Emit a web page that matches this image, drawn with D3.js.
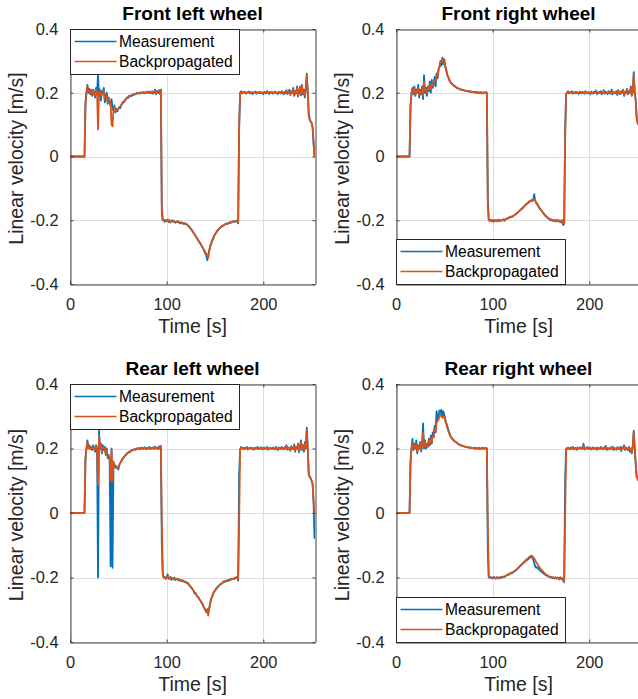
<!DOCTYPE html>
<html><head><meta charset="utf-8">
<script src="https://cdn.jsdelivr.net/npm/d3@7/dist/d3.min.js"></script>
<style>body{margin:0;background:#fff}svg{display:block}</style>
</head><body>
<svg id="c" width="638" height="699"></svg>
<script>
// ---------- data ----------
const time = d3.range(0, 254); // seconds, 1 s sampling
const xDomain = [0, 253.5];
const yDomain = [-0.4, 0.4];
const xTicks = [0, 100, 200];
const xTickLabels = ["0", "100", "200"];
const yTicks = [-0.4, -0.2, 0, 0.2, 0.4];
const yTickLabels = ["-0.4", "-0.2", "0", "0.2", "0.4"];
const titles = ["Front left wheel", "Front right wheel", "Rear left wheel", "Rear right wheel"];
const seriesNames = ["Measurement", "Backpropagated"];
const xLabel = "Time [s]";
const yLabel = "Linear velocity [m/s]";

const flMeas = [
0,0,0,0,0,0,0,0,0,0,
0,0,0,0,0,0,.17,.2,.225,.2,
.212,.195,.208,.19,.21,.2,.185,.215,.2,.258,
.19,.21,.175,.205,.2,.215,.17,.19,.2,.165,
.185,.17,.16,.18,.15,.145,.16,.138,.15,.142,
.148,.155,.152,.162,.165,.172,.17,.178,.18,.185,
.183,.19,.188,.192,.19,.195,.193,.197,.195,.199,
.198,.2,.197,.201,.199,.2,.202,.198,.2,.203,
.199,.201,.204,.198,.2,.205,.197,.202,.21,.195,
.205,.2,.208,.196,.21,-.18,-.2,-.198,-.205,-.2,
-.203,-.198,-.205,-.2,-.207,-.202,-.2,-.205,-.203,-.208,
-.204,-.206,-.203,-.208,-.21,-.206,-.209,-.211,-.208,-.212,
-.21,-.214,-.216,-.22,-.222,-.228,-.23,-.236,-.24,-.245,
-.25,-.255,-.26,-.265,-.27,-.272,-.28,-.285,-.29,-.298,
-.305,-.31,-.325,-.31,-.295,-.285,-.275,-.265,-.26,-.25,
-.245,-.24,-.236,-.232,-.228,-.225,-.222,-.22,-.218,-.216,
-.214,-.213,-.21,-.212,-.208,-.207,-.209,-.205,-.206,-.203,
-.205,-.202,-.204,-.2,-.21,.08,.2,.205,.198,.202,
.2,.203,.197,.201,.2,.204,.198,.2,.202,.196,
.201,.2,.204,.197,.2,.202,.199,.203,.198,.2,
.195,.203,.2,.198,.205,.2,.196,.202,.2,.203,
.197,.2,.204,.199,.201,.196,.203,.2,.198,.205,
.2,.195,.203,.198,.208,.196,.2,.21,.193,.205,
.2,.215,.19,.205,.198,.22,.188,.205,.21,.192,
.225,.195,.21,.185,.215,.26,.205,.13,.115,.11,
.105,.09,.04,0];
const flBack = [
0,0,0,0,0,0,0,0,0,0,
0,0,0,0,0,0,.16,.198,.22,.205,
.205,.2,.21,.195,.205,.198,.19,.21,.205,.085,
.2,.205,.19,.2,.195,.205,.18,.185,.19,.17,
.18,.175,.165,.1,.095,.15,.155,.142,.148,.145,
.15,.153,.158,.16,.167,.17,.173,.176,.182,.183,
.186,.188,.19,.19,.193,.194,.195,.196,.197,.198,
.199,.199,.2,.2,.2,.201,.2,.2,.201,.201,
.2,.202,.2,.201,.2,.203,.2,.201,.206,.198,
.203,.2,.205,.2,.206,-.15,-.198,-.2,-.203,-.2,
-.202,-.2,-.204,-.201,-.205,-.203,-.201,-.204,-.204,-.206,
-.205,-.205,-.204,-.207,-.208,-.207,-.208,-.21,-.21,-.211,
-.212,-.213,-.217,-.219,-.223,-.226,-.231,-.234,-.24,-.244,
-.249,-.254,-.259,-.264,-.268,-.274,-.279,-.284,-.29,-.296,
-.3,-.305,-.31,-.318,-.3,-.28,-.272,-.262,-.257,-.249,
-.244,-.239,-.234,-.23,-.227,-.224,-.221,-.219,-.217,-.215,
-.213,-.212,-.211,-.21,-.209,-.207,-.207,-.206,-.205,-.204,
-.204,-.203,-.202,-.201,-.205,.1,.198,.203,.2,.201,
.201,.202,.199,.2,.201,.202,.2,.2,.201,.199,
.2,.201,.202,.199,.2,.201,.2,.202,.2,.2,
.198,.201,.2,.2,.202,.201,.199,.201,.2,.202,
.199,.2,.202,.2,.2,.198,.202,.2,.2,.203,
.201,.198,.202,.2,.205,.198,.2,.207,.196,.203,
.2,.21,.194,.203,.2,.215,.19,.204,.22,.195,
.22,.198,.205,.19,.212,.255,.2,.14,.118,.11,
.105,.095,.05,0];

const frMeas = [
0,0,0,0,0,0,0,0,0,0,
0,0,0,0,0,.16,.2,.215,.195,.22,
.19,.21,.2,.225,.185,.21,.195,.22,.18,.255,
.2,.215,.19,.22,.205,.235,.2,.24,.215,.23,
.25,.22,.26,.245,.275,.28,.3,.285,.31,.29,
.305,.28,.27,.255,.25,.24,.235,.23,.228,.225,
.222,.22,.218,.215,.214,.213,.212,.21,.21,.209,
.208,.207,.206,.205,.206,.204,.205,.203,.204,.202,
.203,.201,.202,.2,.203,.199,.201,.2,.202,.198,
.2,.201,.199,.202,.2,-.13,-.2,-.202,-.198,-.203,
-.2,-.205,-.199,-.202,-.2,-.204,-.198,-.201,-.203,-.199,
-.2,-.197,-.202,-.198,-.196,-.195,-.192,-.193,-.19,-.188,
-.19,-.187,-.185,-.183,-.181,-.178,-.175,-.173,-.17,-.166,
-.165,-.162,-.158,-.156,-.152,-.15,-.147,-.145,-.142,-.14,
-.138,-.14,-.135,-.118,-.14,-.145,-.15,-.155,-.16,-.165,
-.168,-.172,-.176,-.18,-.185,-.187,-.19,-.193,-.195,-.197,
-.2,-.198,-.202,-.2,-.203,-.199,-.204,-.201,-.2,-.205,
-.202,-.207,-.2,-.215,-.21,.08,.195,.2,.205,.198,
.202,.2,.205,.197,.2,.203,.198,.202,.2,.196,
.204,.2,.198,.203,.2,.197,.205,.2,.198,.202,
.2,.195,.204,.2,.197,.203,.199,.207,.195,.2,
.203,.198,.205,.195,.2,.208,.197,.203,.2,.195,
.205,.2,.197,.21,.195,.203,.2,.198,.205,.193,
.208,.2,.195,.205,.2,.21,.19,.202,.2,.212,
.195,.205,.2,.22,.19,.205,.265,.2,.18,.12,
.105,.1,.095,.09];
const frBack = [
0,0,0,0,0,0,0,0,0,0,
0,0,0,0,0,.15,.198,.21,.2,.215,
.195,.205,.2,.215,.19,.205,.2,.215,.19,.235,
.205,.21,.2,.215,.21,.225,.21,.23,.22,.235,
.24,.235,.255,.25,.27,.285,.295,.3,.305,.295,
.3,.285,.272,.258,.25,.242,.236,.231,.228,.225,
.222,.22,.218,.216,.214,.213,.211,.21,.209,.208,
.207,.207,.206,.205,.205,.204,.204,.203,.203,.202,
.202,.201,.201,.2,.202,.2,.2,.2,.201,.2,
.2,.2,.2,.201,.2,-.16,-.199,-.2,-.2,-.201,
-.2,-.202,-.2,-.201,-.2,-.202,-.2,-.2,-.201,-.2,
-.199,-.199,-.2,-.198,-.196,-.195,-.193,-.192,-.19,-.189,
-.189,-.187,-.185,-.183,-.18,-.178,-.176,-.173,-.17,-.167,
-.164,-.161,-.158,-.155,-.152,-.149,-.146,-.143,-.14,-.139,
-.137,-.138,-.136,-.133,-.138,-.143,-.148,-.153,-.158,-.163,
-.167,-.171,-.175,-.179,-.183,-.186,-.189,-.192,-.194,-.196,
-.198,-.198,-.2,-.2,-.201,-.2,-.202,-.2,-.2,-.203,
-.201,-.204,-.2,-.21,-.212,.05,.197,.2,.202,.2,
.2,.201,.203,.199,.2,.201,.2,.201,.2,.199,
.202,.2,.2,.201,.2,.199,.203,.2,.2,.201,
.2,.198,.202,.2,.199,.201,.2,.204,.198,.2,
.201,.2,.203,.198,.2,.205,.199,.201,.2,.198,
.203,.2,.199,.207,.198,.201,.2,.2,.203,.196,
.205,.2,.198,.203,.2,.208,.193,.2,.2,.21,
.198,.203,.2,.215,.193,.203,.258,.2,.175,.125,
.108,.1,.096,.092];

const rlMeas = [
0,0,0,0,0,0,0,0,0,0,
0,0,0,0,0,0,.17,.2,.225,.205,
.21,.198,.205,.195,.21,.2,.19,.21,.2,-.2,
.255,.2,.215,.185,.21,.195,.205,.18,.2,.17,
.18,.165,-.165,.2,-.17,.155,.15,.14,.145,.14,
.135,.15,.155,.16,.168,.17,.175,.178,.182,.185,
.187,.19,.188,.193,.195,.194,.197,.198,.196,.2,
.199,.202,.198,.2,.203,.2,.199,.204,.2,.198,
.202,.2,.205,.198,.202,.2,.204,.199,.206,.2,
.203,.198,.207,.2,.208,-.1,-.19,-.2,-.198,-.205,
-.2,-.19,-.203,-.205,-.198,-.207,-.202,-.205,-.2,-.208,
-.205,-.203,-.209,-.206,-.21,-.208,-.212,-.209,-.213,-.215,
-.213,-.218,-.217,-.222,-.225,-.23,-.233,-.238,-.242,-.25,
-.248,-.255,-.26,-.262,-.268,-.272,-.278,-.28,-.29,-.295,
-.3,-.305,-.298,-.31,-.295,-.28,-.265,-.26,-.25,-.245,
-.24,-.236,-.232,-.228,-.225,-.222,-.22,-.218,-.216,-.212,
-.214,-.21,-.212,-.208,-.21,-.206,-.208,-.204,-.205,-.203,
-.205,-.2,-.202,-.198,-.21,.12,.195,.205,.2,.203,
.198,.202,.2,.205,.197,.2,.203,.199,.202,.2,
.196,.203,.2,.2,.205,.198,.201,.2,.204,.197,
.2,.203,.198,.2,.205,.196,.2,.202,.2,.198,
.203,.2,.197,.205,.2,.195,.203,.2,.198,.205,
.2,.197,.204,.2,.21,.196,.203,.2,.193,.207,
.2,.198,.213,.19,.205,.2,.215,.188,.205,.225,
.195,.21,.19,.22,.2,.265,.2,.12,.112,.108,
.1,.09,.03,-.08];
const rlBack = [
0,0,0,0,0,0,0,0,0,0,
0,0,0,0,0,0,.165,.198,.22,.2,
.205,.2,.203,.198,.205,.2,.195,.205,.2,.085,
.24,.205,.21,.19,.205,.2,.2,.185,.195,.175,
.178,.17,.1,.195,.1,.16,.148,.142,.14,.138,
.14,.148,.155,.16,.165,.17,.174,.178,.18,.184,
.186,.189,.19,.192,.194,.195,.196,.197,.198,.199,
.2,.2,.2,.2,.201,.2,.2,.202,.2,.2,
.201,.2,.203,.2,.201,.2,.202,.2,.204,.2,
.202,.2,.205,.2,.206,-.03,-.195,-.2,-.2,-.203,
-.2,-.197,-.202,-.204,-.2,-.205,-.202,-.204,-.201,-.206,
-.204,-.204,-.207,-.206,-.209,-.208,-.21,-.21,-.212,-.214,
-.214,-.217,-.218,-.222,-.225,-.229,-.233,-.237,-.242,-.248,
-.25,-.255,-.259,-.263,-.268,-.272,-.277,-.282,-.289,-.296,
-.302,-.308,-.3,-.318,-.298,-.282,-.268,-.26,-.252,-.246,
-.241,-.237,-.233,-.229,-.226,-.223,-.221,-.219,-.216,-.214,
-.213,-.211,-.211,-.209,-.209,-.207,-.207,-.205,-.205,-.204,
-.204,-.202,-.202,-.2,-.206,-.03,.197,.203,.2,.202,
.2,.201,.2,.203,.199,.2,.202,.2,.201,.2,
.199,.202,.2,.2,.203,.199,.2,.2,.202,.199,
.2,.202,.2,.2,.203,.198,.2,.201,.2,.2,
.202,.2,.199,.203,.2,.198,.202,.2,.2,.203,
.2,.199,.203,.2,.207,.198,.202,.2,.196,.205,
.2,.2,.21,.193,.204,.2,.212,.192,.203,.22,
.198,.207,.194,.215,.2,.258,.2,.125,.113,.108,
.1,.092,.04,0];

const rrMeas = [
0,0,0,0,0,0,0,0,0,0,
0,0,0,0,0,.16,.2,.23,.195,.215,
.2,.225,.185,.21,.2,.22,.19,.215,.278,.2,
.225,.2,.215,.205,.23,.21,.24,.215,.25,.235,
.27,.25,.316,.29,.3,.318,.31,.32,.3,.315,
.305,.29,.28,.27,.26,.25,.242,.235,.232,.228,
.225,.222,.22,.218,.215,.213,.212,.21,.21,.208,
.207,.206,.205,.205,.204,.203,.204,.202,.203,.201,
.202,.2,.203,.199,.201,.2,.202,.198,.201,.2,
.203,.199,.2,.202,.2,-.12,-.2,-.198,-.202,-.2,
-.203,-.198,-.2,-.204,-.201,-.199,-.203,-.2,-.202,-.198,
-.2,-.197,-.199,-.196,-.194,-.193,-.19,-.191,-.188,-.186,
-.187,-.184,-.182,-.18,-.178,-.175,-.172,-.17,-.166,-.163,
-.16,-.158,-.155,-.152,-.15,-.147,-.145,-.142,-.14,-.137,
-.135,-.138,-.145,-.155,-.165,-.17,-.168,-.172,-.175,-.178,
-.18,-.183,-.186,-.188,-.19,-.193,-.194,-.196,-.197,-.198,
-.2,-.199,-.202,-.2,-.203,-.2,-.204,-.2,-.202,-.206,
-.2,-.205,-.203,-.21,-.215,.1,.2,.198,.203,.2,
.197,.203,.2,.205,.198,.2,.202,.196,.203,.2,
.2,.204,.198,.2,.215,.197,.201,.2,.205,.198,
.2,.203,.197,.2,.204,.198,.2,.202,.196,.203,
.2,.198,.205,.2,.197,.203,.2,.208,.195,.201,
.2,.197,.203,.2,.206,.195,.201,.2,.196,.204,
.2,.198,.205,.192,.204,.2,.21,.195,.203,.198,
.195,.205,.19,.2,.185,.21,.255,.2,.15,.112,
.105,.1,.095,.092];
const rrBack = [
0,0,0,0,0,0,0,0,0,0,
0,0,0,0,0,.15,.198,.215,.2,.21,
.2,.215,.19,.205,.2,.215,.195,.21,.25,.205,
.22,.205,.21,.208,.225,.215,.23,.22,.24,.235,
.26,.25,.28,.285,.29,.3,.305,.3,.295,.3,
.295,.285,.275,.265,.255,.247,.24,.234,.23,.227,
.224,.221,.219,.217,.215,.213,.211,.21,.209,.208,
.207,.206,.205,.205,.204,.203,.203,.202,.202,.201,
.201,.2,.202,.2,.2,.2,.201,.199,.2,.2,
.201,.2,.2,.201,.2,-.04,-.198,-.2,-.201,-.2,
-.201,-.2,-.2,-.202,-.2,-.2,-.201,-.2,-.201,-.199,
-.199,-.198,-.198,-.196,-.194,-.192,-.19,-.19,-.187,-.185,
-.185,-.183,-.181,-.179,-.177,-.174,-.171,-.168,-.165,-.162,
-.159,-.156,-.153,-.15,-.147,-.144,-.142,-.139,-.136,-.134,
-.132,-.134,-.137,-.141,-.146,-.152,-.157,-.162,-.167,-.171,
-.175,-.178,-.181,-.184,-.187,-.19,-.192,-.194,-.196,-.197,
-.198,-.199,-.2,-.2,-.201,-.2,-.202,-.2,-.201,-.203,
-.2,-.203,-.202,-.207,-.212,-.02,.198,.2,.201,.2,
.199,.201,.2,.203,.199,.2,.201,.198,.201,.2,
.2,.202,.199,.2,.21,.198,.2,.2,.203,.199,
.2,.202,.198,.2,.202,.199,.2,.201,.198,.202,
.2,.199,.203,.2,.198,.202,.2,.205,.197,.2,
.2,.198,.202,.2,.204,.197,.2,.2,.198,.203,
.2,.199,.203,.195,.202,.2,.207,.197,.202,.2,
.198,.203,.195,.2,.19,.205,.25,.2,.155,.115,
.107,.1,.096,.093];

// ---------- layout ----------
const FONT = "'Liberation Sans', Arial, Helvetica, sans-serif";
const colors = ["#0072BD", "#D95319"];
const panels = [
  {title: titles[0], series: [flMeas, flBack], left: 70,  top: 29,  w: 245, h: 255, legend: "nw", ylabX: 23},
  {title: titles[1], series: [frMeas, frBack], left: 396, top: 29,  w: 245, h: 255, legend: "sw", ylabX: 349},
  {title: titles[2], series: [rlMeas, rlBack], left: 70,  top: 384, w: 245, h: 258, legend: "nw", ylabX: 23},
  {title: titles[3], series: [rrMeas, rrBack], left: 396, top: 384, w: 245, h: 258, legend: "sw", ylabX: 349}
];

const svg = d3.select("#c");
svg.append("rect").attr("width", 638).attr("height", 699).attr("fill", "#fff");

panels.forEach((p, pi) => {
  const x = d3.scaleLinear().domain(xDomain).range([p.left, p.left + p.w]);
  const y = d3.scaleLinear().domain(yDomain).range([p.top + p.h, p.top]);
  const g = svg.append("g");

  // grid
  g.selectAll(".gx").data(xTicks).join("line")
    .attr("x1", d => Math.round(x(d)) + 0.5).attr("x2", d => Math.round(x(d)) + 0.5)
    .attr("y1", p.top).attr("y2", p.top + p.h)
    .attr("stroke", "#dedede").attr("stroke-width", 1);
  g.selectAll(".gy").data(yTicks).join("line")
    .attr("y1", d => Math.round(y(d)) + 0.5).attr("y2", d => Math.round(y(d)) + 0.5)
    .attr("x1", p.left).attr("x2", p.left + p.w)
    .attr("stroke", "#dedede").attr("stroke-width", 1);

  // clip
  const cid = "clip" + pi;
  svg.append("clipPath").attr("id", cid).append("rect")
    .attr("x", p.left).attr("y", p.top).attr("width", p.w).attr("height", p.h);

  const line = d3.line().x(d => x(d[0])).y(d => y(d[1]));
  const dg = g.append("g").attr("clip-path", `url(#${cid})`);
  p.series.forEach((vals, si) => {
    dg.append("path")
      .datum(vals.map((v, i) => [time[i], v]))
      .attr("d", line)
      .attr("fill", "none")
      .attr("stroke", colors[si])
      .attr("stroke-width", 1.8)
      .attr("stroke-linejoin", "round");
  });

  // axes via d3 axis (inward ticks)
  const axB = d3.axisBottom(x).tickValues(xTicks).tickFormat((d, i) => xTickLabels[i]).tickSizeInner(-3).tickSizeOuter(0).tickPadding(14);
  const axT = d3.axisTop(x).tickValues(xTicks).tickFormat("").tickSizeInner(-3).tickSizeOuter(0);
  const axL = d3.axisLeft(y).tickValues(yTicks).tickFormat((d, i) => yTickLabels[i]).tickSizeInner(-3).tickSizeOuter(0).tickPadding(12);
  const axR = d3.axisRight(y).tickValues(yTicks).tickFormat("").tickSizeInner(-3).tickSizeOuter(0);

  const styleAxis = sel => {
    sel.select(".domain").attr("stroke", "#404040").attr("stroke-width", 1);
    sel.selectAll(".tick line").attr("stroke", "#404040");
    sel.selectAll(".tick text").attr("fill", "#262626").style("font-family", FONT).style("font-size", "16.4px");
  };
  g.append("g").attr("transform", `translate(0,${p.top + p.h + 0.5})`).call(axB).call(styleAxis);
  g.append("g").attr("transform", `translate(0,${p.top + 0.5})`).call(axT).call(styleAxis);
  g.append("g").attr("transform", `translate(${p.left + 0.5},0)`).call(axL).call(styleAxis);
  g.append("g").attr("transform", `translate(${p.left + p.w + 0.5},0)`).call(axR).call(styleAxis);

  // title
  g.append("text").attr("x", p.left + p.w / 2).attr("y", p.top - 9)
    .attr("text-anchor", "middle").attr("fill", "#000")
    .style("font-family", FONT).style("font-size", "19px").style("font-weight", "bold")
    .text(p.title);
  // x label
  g.append("text").attr("x", p.left + p.w / 2).attr("y", p.top + p.h + 49)
    .attr("text-anchor", "middle").attr("fill", "#262626")
    .style("font-family", FONT).style("font-size", "19.5px").text(xLabel);
  // y label
  g.append("text").attr("transform", `translate(${p.ylabX},${p.top + p.h / 2 + 2}) rotate(-90)`)
    .attr("text-anchor", "middle").attr("fill", "#262626")
    .style("font-family", FONT).style("font-size", "19.5px").text(yLabel);

  // legend
  const lw = 169, lh = 45;
  const lx = p.left + 0.5;
  const ly = p.legend === "nw" ? p.top + 0.5 : p.top + p.h - lh + 0.5;
  const lg = g.append("g");
  lg.append("rect").attr("x", lx).attr("y", ly).attr("width", lw).attr("height", lh)
    .attr("fill", "#fff").attr("stroke", "#262626").attr("stroke-width", 1);
  seriesNames.forEach((nm, i) => {
    const yy = ly + 12 + i * 20;
    lg.append("line").attr("x1", lx + 4).attr("x2", lx + 46).attr("y1", yy).attr("y2", yy)
      .attr("stroke", colors[i]).attr("stroke-width", 1.3);
    lg.append("text").attr("x", lx + 48.5).attr("y", yy).attr("dy", "0.36em")
      .attr("fill", "#000").style("font-family", FONT).style("font-size", "15.6px").text(nm);
  });
});
</script>
</body></html>
